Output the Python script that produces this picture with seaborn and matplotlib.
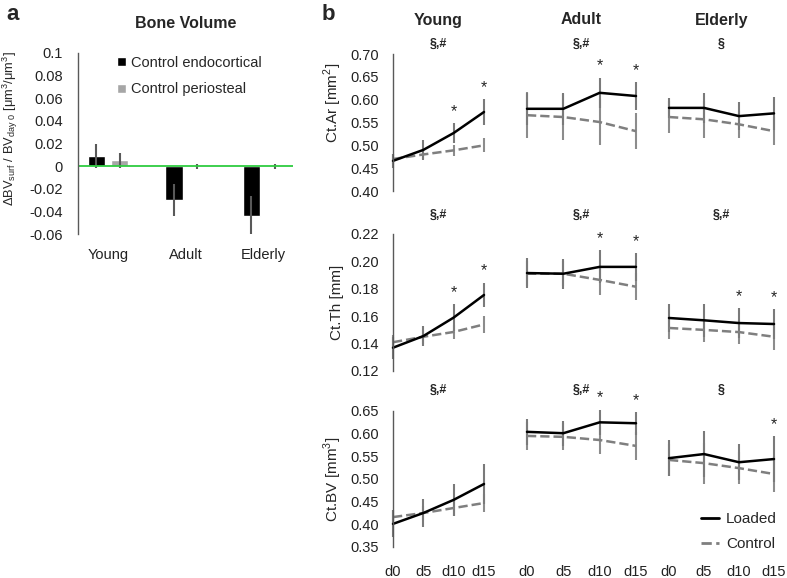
import numpy as np
import pandas as pd
import matplotlib
matplotlib.use('Agg')
import matplotlib.pyplot as plt
import seaborn as sns
from matplotlib.lines import Line2D

# ---- data: panel a (bone volume change) ----
groups = ['Young', 'Adult', 'Elderly']
bv_endo = [0.009, -0.030, -0.044]
bv_endo_err = [0.011, 0.014, 0.018]
bv_peri = [0.005, -0.0003, -0.0003]
bv_peri_err = [0.007, 0.002, 0.002]

# ---- data: panel b (time courses) ----
days = [0, 5, 10, 15]
day_labels = ['d0', 'd5', 'd10', 'd15']

ar_loaded = {'Young': [0.466, 0.490, 0.527, 0.573], 'Adult': [0.580, 0.580, 0.615, 0.608], 'Elderly': [0.582, 0.582, 0.564, 0.570]}
ar_loaded_err = {'Young': [0.016, 0.022, 0.022, 0.028], 'Adult': [0.035, 0.035, 0.033, 0.030], 'Elderly': [0.022, 0.032, 0.031, 0.036]}
ar_control = {'Young': [0.470, 0.480, 0.489, 0.500], 'Adult': [0.566, 0.562, 0.551, 0.531], 'Elderly': [0.562, 0.557, 0.546, 0.531]}
ar_control_err = {'Young': [0.010, 0.010, 0.012, 0.015], 'Adult': [0.050, 0.050, 0.050, 0.040], 'Elderly': [0.035, 0.040, 0.030, 0.031]}

th_loaded = {'Young': [0.137, 0.1455, 0.159, 0.1755], 'Adult': [0.1915, 0.191, 0.196, 0.196], 'Elderly': [0.1587, 0.157, 0.155, 0.1543]}
th_loaded_err = {'Young': [0.008, 0.0075, 0.010, 0.009], 'Adult': [0.011, 0.011, 0.012, 0.010], 'Elderly': [0.010, 0.012, 0.011, 0.011]}
th_control = {'Young': [0.141, 0.145, 0.1485, 0.154], 'Adult': [0.191, 0.191, 0.1865, 0.1815], 'Elderly': [0.1514, 0.150, 0.1484, 0.145]}
th_control_err = {'Young': [0.005, 0.005, 0.005, 0.006], 'Adult': [0.009, 0.009, 0.011, 0.010], 'Elderly': [0.008, 0.009, 0.009, 0.010]}

bvt_loaded = {'Young': [0.401, 0.425, 0.454, 0.489], 'Adult': [0.604, 0.601, 0.625, 0.623], 'Elderly': [0.546, 0.555, 0.537, 0.544]}
bvt_loaded_err = {'Young': [0.030, 0.030, 0.035, 0.045], 'Adult': [0.028, 0.028, 0.028, 0.025], 'Elderly': [0.040, 0.050, 0.040, 0.050]}
bvt_control = {'Young': [0.416, 0.425, 0.436, 0.447], 'Adult': [0.595, 0.593, 0.586, 0.573], 'Elderly': [0.542, 0.535, 0.524, 0.511]}
bvt_control_err = {'Young': [0.015, 0.015, 0.018, 0.020], 'Adult': [0.030, 0.030, 0.030, 0.030], 'Elderly': [0.035, 0.045, 0.035, 0.040]}

sig_ar = ['§,#', '§,#', '§']
sig_th = ['§,#', '§,#', '§,#']
sig_bv = ['§,#', '§,#', '§']
stars_ar = {'Young': [10, 15], 'Adult': [10, 15], 'Elderly': []}
stars_th = {'Young': [10, 15], 'Adult': [10, 15], 'Elderly': [10, 15]}
stars_bv = {'Young': [], 'Adult': [10, 15], 'Elderly': [15]}

sns.set_theme(style='white')
plt.rcParams['font.family'] = ['Liberation Sans', 'DejaVu Sans']
plt.rcParams['mathtext.fontset'] = 'custom'
plt.rcParams['mathtext.rm'] = 'Liberation Sans'
plt.rcParams['font.size'] = 10

W, H = 787, 578
fig = plt.figure(figsize=(W / 100, H / 100), dpi=100)


def px_axes(left, top, right, bottom):
    return fig.add_axes([left / W, 1 - bottom / H, (right - left) / W, (bottom - top) / H])


# ---------------- panel a ----------------
axa = px_axes(78, 53, 293, 234)
df = pd.DataFrame({
    'group': groups * 2,
    'kind': ['Control endocortical'] * 3 + ['Control periosteal'] * 3,
    'value': bv_endo + bv_peri,
})
sns.barplot(data=df, x='group', y='value', hue='kind', palette=['#000000', '#a6a6a6'],
            width=0.6, gap=0.25, errorbar=None, ax=axa)
errs = bv_endo_err + bv_peri_err
vals = bv_endo + bv_peri
bars = axa.patches[:6]
for p, v, e in zip(bars, vals, errs):
    axa.errorbar(p.get_x() + p.get_width() / 2, v, yerr=e, fmt='none', ecolor='#595959', elinewidth=1.5, capsize=0)
axa.axhline(0, color='#2ecc40', lw=1.3)
axa.set_ylim(-0.06, 0.1)
axa.set_yticks([0.1, 0.08, 0.06, 0.04, 0.02, 0, -0.02, -0.04, -0.06])
axa.set_yticklabels(['0.1', '0.08', '0.06', '0.04', '0.02', '0', '-0.02', '-0.04', '-0.06'])
axa.tick_params(axis='y', length=0, pad=11, labelsize=10.5, colors='#222222')
axa.tick_params(axis='x', length=0, pad=10, labelsize=10.5, colors='#222222')
for s in ['top', 'right', 'bottom']:
    axa.spines[s].set_visible(False)
axa.spines['left'].set_color('#595959')
axa.spines['left'].set_linewidth(1)
axa.set_xlabel('')
axa.set_ylabel(r'ΔBV$_\mathregular{surf}$ / BV$_\mathregular{day\ 0}$ [μm$^\mathregular{3}$/μm$^\mathregular{3}$]',
               fontsize=9.3)
axa.yaxis.set_label_coords((20 - 78) / 215, 0.585)
axa.set_title('Bone Volume', fontweight='bold', fontsize=11.5, pad=18)
h, l = axa.get_legend_handles_labels()
axa.legend(h, l, loc='upper left', bbox_to_anchor=(117 / W, 1 - 56 / H), bbox_transform=fig.transFigure,
           frameon=False, handlelength=0.6, handleheight=0.6, handletextpad=0.35, fontsize=10.5,
           labelspacing=0.85, borderaxespad=0, borderpad=0)

fig.text(13 / W, 1 - 15 / H, 'a', fontsize=16, fontweight='bold', ha='center', va='center')
fig.text(328 / W, 1 - 15 / H, 'b', fontsize=16, fontweight='bold', ha='center', va='center')

# ---------------- panel b ----------------
cols = [(393, 484), (527, 636), (669, 774)]
rows = [
    dict(top=54, bottom=191, ylim=(0.40, 0.70), step=0.05, label='Ct.Ar [mm$^\\mathregular{2}$]', label_y=0.64,
         loaded=ar_loaded, lerr=ar_loaded_err, control=ar_control, cerr=ar_control_err,
         sig=sig_ar, sig_y=44, stars=stars_ar),
    dict(top=234, bottom=371, ylim=(0.12, 0.22), step=0.02, label='Ct.Th [mm]', label_y=0.5,
         loaded=th_loaded, lerr=th_loaded_err, control=th_control, cerr=th_control_err,
         sig=sig_th, sig_y=215, stars=stars_th),
    dict(top=411, bottom=547, ylim=(0.35, 0.65), step=0.05, label='Ct.BV [mm$^\\mathregular{3}$]', label_y=0.5,
         loaded=bvt_loaded, lerr=bvt_loaded_err, control=bvt_control, cerr=bvt_control_err,
         sig=sig_bv, sig_y=390, stars=stars_bv),
]

for ri, r in enumerate(rows):
    for ci, g in enumerate(groups):
        left, right = cols[ci]
        ax = px_axes(left, r['top'], right, r['bottom'])
        lo, lo_e = r['loaded'][g], r['lerr'][g]
        co, co_e = r['control'][g], r['cerr'][g]
        ax.errorbar(days, co, yerr=co_e, fmt='none', ecolor='#8c8c8c', elinewidth=1.5, capsize=0, clip_on=False)
        ax.errorbar(days, lo, yerr=lo_e, fmt='none', ecolor='#7a7a7a', elinewidth=1.5, capsize=0, clip_on=False)
        sns.lineplot(x=days, y=co, color='#7f7f7f', lw=1.8, linestyle='--', ax=ax, clip_on=False)
        sns.lineplot(x=days, y=lo, color='black', lw=1.8, ax=ax, clip_on=False)
        for d in r['stars'][g]:
            i = days.index(d)
            top = max(lo[i] + lo_e[i], co[i] + co_e[i])
            ax.annotate('*', (d, top), xytext=(0, 3), textcoords='offset points',
                        ha='center', va='bottom', fontsize=11.5, annotation_clip=False)
        ax.set_xlim(0, 15)
        ax.set_ylim(*r['ylim'])
        for s in ['top', 'right', 'bottom', 'left']:
            ax.spines[s].set_visible(False)
        ax.set_xticks(days)
        if ri == 2:
            ax.set_xticklabels(day_labels)
            ax.tick_params(axis='x', length=0, pad=13, labelsize=10.5, colors='#222222')
        else:
            ax.set_xticklabels([])
            ax.tick_params(axis='x', length=0)
        yt = np.round(np.arange(r['ylim'][0], r['ylim'][1] + 1e-9, r['step']), 2)
        if ci == 0:
            ax.spines['left'].set_visible(True)
            ax.spines['left'].set_color('#595959')
            ax.spines['left'].set_linewidth(1)
            ax.set_yticks(yt)
            ax.set_yticklabels([f'{v:.2f}' for v in yt])
            ax.tick_params(axis='y', length=0, pad=10, labelsize=10.5, colors='#222222')
            ax.set_ylabel(r['label'], fontsize=11)
            ax.yaxis.set_label_coords((344 - left) / (right - left), r['label_y'])
        else:
            ax.set_yticks([])
        ax.set_xlabel('')
        fig.text((left + right) / 2 / W, 1 - r['sig_y'] / H, r['sig'][ci], fontsize=9, fontweight='bold',
                 ha='center', va='center')
        if ri == 0:
            fig.text((left + right) / 2 / W, 1 - 20 / H, g, fontsize=11.5, fontweight='bold',
                     ha='center', va='center')
        if ri == 2 and ci == 2:
            handles = [Line2D([], [], color='black', lw=2),
                       Line2D([], [], color='#7f7f7f', lw=2, linestyle='--')]
            ax.legend(handles, ['Loaded', 'Control'], loc='upper left', bbox_to_anchor=(701 / W, 1 - 512 / H),
                      bbox_transform=fig.transFigure, frameon=False, handlelength=1.2, handletextpad=0.45,
                      fontsize=11, labelspacing=0.75, borderaxespad=0, borderpad=0)

fig.savefig('out.png', dpi=100)
